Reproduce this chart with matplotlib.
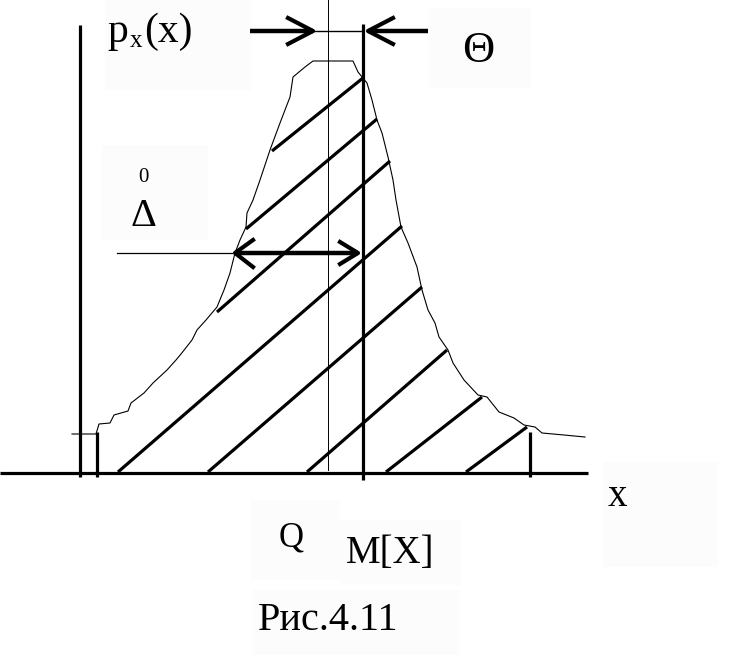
import matplotlib.pyplot as plt
from matplotlib.patches import Rectangle

# diagram coordinates (x to the right, y downward, same scale as the page)
curve_x = [72, 96, 99, 110, 114, 128, 131, 144, 153, 167, 176, 181, 192, 197, 206, 217,
           224, 230, 235, 240, 246, 247, 253, 260, 270, 280, 290, 293, 305, 313, 353,
           358, 367, 372, 377, 382, 388, 393, 396, 401, 408, 417, 422, 428, 435, 439,
           448, 453, 464, 478, 487, 499, 514, 524, 535, 542, 564, 585]
curve_y = [434, 434, 424, 423, 415, 411, 403, 393, 383, 370, 360, 354, 340, 330, 320, 307,
           290, 273, 253, 240, 227, 213, 200, 180, 150, 123, 97, 77, 67, 61, 61,
           72, 83, 100, 120, 133, 157, 180, 200, 227, 243, 267, 290, 310, 323, 337,
           350, 363, 380, 395, 397, 412, 418, 425, 427, 433, 435, 437]

# hatch strokes: (x start, y start, x end, y end)
hatch = [(272, 151, 363, 78), (246, 229, 377, 119), (217, 312, 390, 161),
         (118, 472, 402, 226), (208, 472, 422, 287), (307, 472, 447, 350),
         (386, 472, 482, 397), (466, 472, 527, 427)]

axis_y = 473
axis_x = 80
q_x = 328
mean_x = 363
tick_x = [97, 530]

# faint scan boxes behind labels: (x, y, w, h)
boxes = [(105, 0, 147, 90), (428, 8, 102, 80), (102, 145, 106, 95),
         (603, 462, 115, 105), (250, 500, 90, 80), (340, 520, 122, 65),
         (252, 590, 208, 65)]

fig = plt.figure(figsize=(7.46, 6.70), dpi=100)
ax = fig.add_axes([0, 0, 1, 1])
ax.set_xlim(0, 746)
ax.set_ylim(670, 0)
ax.axis("off")

for bx, by, bw, bh in boxes:
    ax.add_patch(Rectangle((bx, by), bw, bh, facecolor="#fcfcfc", edgecolor="none", zorder=0))

lw_thick = 2.3
# axes
ax.plot([0, 588], [axis_y, axis_y], color="black", lw=lw_thick, solid_capstyle="butt")
ax.plot([axis_x, axis_x], [25, 477], color="black", lw=lw_thick, solid_capstyle="butt")
ax.plot([mean_x, mean_x], [24, 480], color="black", lw=lw_thick, solid_capstyle="butt")
ax.plot([q_x, q_x], [0, 470], color="black", lw=0.7)
for tx in tick_x:
    ax.plot([tx, tx], [432, 477], color="black", lw=lw_thick, solid_capstyle="butt")

# density curve
ax.plot(curve_x, curve_y, color="black", lw=0.8)

for x0, y0, x1, y1 in hatch:
    ax.plot([x0, x1], [y0, y1], color="black", lw=lw_thick, solid_capstyle="butt")

# arrows for theta
ax.plot([250, 313], [31, 31], color="black", lw=3.2, solid_capstyle="butt")
ax.plot([288, 313, 288], [18, 31, 44], color="black", lw=3.0)
ax.plot([313, 363], [31, 31], color="black", lw=1.0)
ax.plot([368, 428], [31, 31], color="black", lw=3.2, solid_capstyle="butt")
ax.plot([393, 368, 393], [18, 31, 44], color="black", lw=3.0)

# delta arrow
ax.plot([117, 232], [253, 253], color="black", lw=0.9)
ax.plot([235, 358], [253, 253], color="black", lw=3.2, solid_capstyle="butt")
ax.plot([253, 235, 253], [240, 253, 267], color="black", lw=3.0)
ax.plot([340, 358, 340], [242, 253, 264], color="black", lw=3.0)

font = "Liberation Serif"
ax.text(107, 42, "p", fontsize=30, family=font, va="baseline")
ax.text(130, 47, "x", fontsize=18, family=font, va="baseline")
ax.text(144, 42, "(x)", fontsize=30, family=font, va="baseline")
ax.text(478, 51, "Θ", fontsize=32, family=font, ha="center", va="center")
ax.text(143, 178, "0", fontsize=15, family=font, ha="center", va="center")
ax.text(143, 226, "Δ", fontsize=29, family=font, ha="center", va="baseline")
ax.text(617, 506, "x", fontsize=28, family=font, ha="center", va="baseline")
ax.text(291, 546, "Q", fontsize=25, family=font, ha="center", va="baseline")
ax.text(390, 563, "M[X]", fontsize=28, family=font, ha="center", va="baseline")
ax.text(328, 630, "Рис.4.11", fontsize=29, family=font, ha="center", va="baseline")

fig.savefig("out.png", dpi=100)
